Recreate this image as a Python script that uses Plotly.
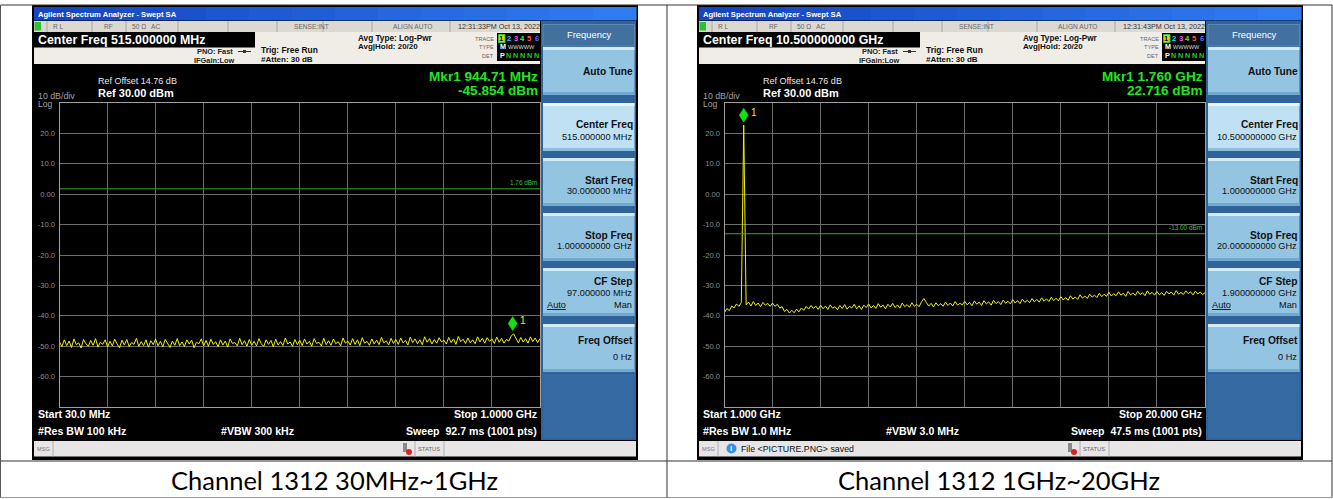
import plotly.graph_objects as go
import numpy as np

W, H = 1333, 499

# ------------------------------------------------------------------ data
ref_level_dbm = 30.0
bottom_level_dbm = -70.0
y_grid_values = [30, 20, 10, 0, -10, -20, -30, -40, -50, -60, -70]
y_tick_text = ["", "20.0", "10.0", "0.00", "-10.0", "-20.0", "-30.0", "-40.0", "-50.0", "-60.0", ""]

# left sweep: 30 MHz .. 1 GHz (MHz)
l_start, l_stop = 30.0, 1000.0
l_trace = [
    -48.6, -50.1, -47.9, -49.8, -48.3, -50.4, -47.6, -49.5, -48.9, -50.6, -47.8, -49.2, -50.0, -48.1, -49.7, -47.5, -50.3, -48.7, -49.4, -47.9,
    -50.2, -48.4, -49.9, -47.7, -49.3, -50.5, -48.0, -49.6, -47.8, -50.1, -48.8, -49.4, -47.4, -50.0, -48.5, -49.8, -47.9, -50.3, -48.2, -49.5,
    -47.6, -49.9, -48.4, -50.2, -47.8, -49.1, -50.4, -48.3, -49.7, -47.5, -49.8, -48.6, -50.1, -47.9, -49.3, -48.0, -50.5, -48.7, -49.2, -47.6,
    -49.9, -48.1, -50.0, -47.7, -49.4, -48.5, -50.2, -47.9, -49.6, -48.3, -50.3, -47.6, -49.1, -48.8, -49.9, -47.4, -49.5, -48.2, -50.0, -47.8,
    -49.7, -48.4, -49.9, -47.5, -49.2, -50.1, -47.9, -49.4, -48.1, -50.2, -47.7, -49.6, -48.5, -49.8, -47.3, -49.3, -48.6, -50.0, -47.8, -49.5,
    -48.0, -49.8, -47.6, -49.3, -48.4, -50.0, -47.5, -49.1, -48.7, -49.9, -47.4, -49.5, -48.2, -49.7, -47.6, -49.2, -48.5, -49.9, -47.3, -49.0,
    -48.3, -49.6, -47.5, -49.4, -47.9, -49.8, -47.2, -49.0, -48.4, -49.7, -47.6, -49.3, -48.0, -49.5, -47.1, -48.9, -48.2, -49.6, -47.4, -49.1,
    -47.8, -49.4, -47.3, -48.9, -48.1, -49.6, -47.0, -48.8, -47.6, -49.2, -47.9, -49.5, -46.9, -48.7, -47.5, -49.3, -47.8, -49.0, -47.2, -48.6,
    -48.0, -49.3, -47.1, -48.8, -47.6, -49.4, -46.8, -48.5, -47.7, -49.1, -47.3, -48.9, -47.9, -49.2, -46.9, -48.6, -47.4, -49.0, -47.2, -48.4,
    -47.6, -49.1, -47.0, -48.7, -47.4, -49.0, -47.8, -48.3, -46.7, -45.9, -47.3, -48.9, -47.1, -48.6, -47.5, -49.0, -46.9, -48.5, -47.3, -48.8, -47.5,
]
l_mkr_freq, l_mkr_dbm = 944.71, -45.854
l_display_line = 1.76

# right sweep: 1 GHz .. 20 GHz (GHz)
r_start, r_stop = 1.0, 20.0
r_trace = [
    -38.9, -37.6, -38.3, -36.8, -37.4, -36.1, -36.9, -35.7, 22.716, -36.4, -35.5, -36.8, -35.3, -36.6, -35.8, -37.0, -35.6, -36.5, -35.9, -36.9,
    -35.8, -36.9, -36.2, -37.5, -37.0, -38.6, -37.9, -39.1, -38.2, -39.0, -37.8, -38.7, -37.4, -38.2, -36.9, -37.8, -36.6, -37.6, -36.8, -37.9,
    -36.5, -37.7, -36.8, -37.9, -36.4, -37.5, -37.0, -38.0, -36.6, -37.6, -36.3, -37.8, -36.9, -37.4, -36.2, -37.7, -36.7, -37.9, -36.5, -37.3,
    -36.1, -37.4, -36.6, -37.6, -36.0, -37.2, -36.5, -37.7, -36.2, -37.1, -35.9, -37.3, -36.4, -37.5, -35.8, -37.0, -36.3, -37.2, -35.7, -36.9,
    -36.2, -37.0, -35.4, -34.3, -35.6, -36.8, -35.9, -37.1, -35.7, -36.7, -36.0, -36.9, -35.5, -36.6, -35.8, -36.8, -35.3, -36.5, -35.9, -36.4,
    -35.2, -36.4, -35.6, -36.7, -35.1, -36.2, -35.5, -36.6, -35.0, -36.1, -35.4, -36.5, -34.9, -36.0, -35.3, -36.3, -34.8, -35.9, -35.2, -36.1,
    -34.7, -35.8, -35.0, -36.0, -34.5, -35.6, -34.9, -35.7, -34.3, -35.4, -34.6, -35.5, -34.1, -35.2, -34.4, -35.3, -33.9, -35.0, -34.2, -35.1,
    -33.7, -34.8, -34.0, -34.9, -33.4, -34.5, -33.8, -34.6, -33.1, -34.2, -33.5, -34.3, -32.9, -33.9, -33.2, -34.0, -32.6, -33.7, -32.9, -33.6,
    -32.3, -33.5, -32.7, -33.4, -32.1, -33.2, -32.6, -33.6, -32.0, -33.1, -32.5, -33.3, -31.9, -33.0, -32.4, -33.4, -31.8, -32.9, -32.3, -33.2,
    -32.0, -33.1, -32.4, -33.3, -31.9, -32.8, -32.2, -33.2, -31.7, -32.9, -32.3, -33.0, -31.8, -32.7, -32.1, -33.1, -31.9, -32.8, -32.2, -33.0, -32.4,
]
r_mkr_freq, r_mkr_dbm = 1.760, 22.716
r_display_line = -13.00

captions = ["Channel 1312 30MHz~1GHz", "Channel 1312 1GHz~20GHz"]

screens = [
    dict(time="12:31:33PM Oct 13, 2022", center="Center Freq 515.000000 MHz",
         mkr1="Mkr1 944.71 MHz", mkr2="-45.854 dBm", dl_label="1.76 dBm",
         sk_center="515.000000 MHz", sk_start="30.000000 MHz", sk_stop="1.000000000 GHz",
         sk_step="97.000000 MHz", start="Start 30.0 MHz", rbw="#Res BW 100 kHz",
         vbw="#VBW 300 kHz", stop="Stop 1.0000 GHz", sweep="Sweep\u00a0\u00a092.7 ms (1001 pts)",
         msg=""),
    dict(time="12:31:43PM Oct 13, 2022", center="Center Freq 10.500000000 GHz",
         mkr1="Mkr1 1.760 GHz", mkr2="22.716 dBm", dl_label="-13.00 dBm",
         sk_center="10.500000000 GHz", sk_start="1.000000000 GHz", sk_stop="20.000000000 GHz",
         sk_step="1.900000000 GHz", start="Start 1.000 GHz", rbw="#Res BW 1.0 MHz",
         vbw="#VBW 3.0 MHz", stop="Stop 20.000 GHz", sweep="Sweep\u00a0\u00a047.5 ms (1001 pts)",
         msg="File &lt;PICTURE.PNG&gt; saved"),
]

# ------------------------------------------------------------------ helpers
FONT = "Liberation Sans, Arial, sans-serif"
shapes, anns = [], []


def rect(x0, y0, x1, y1, fill, line=None, lw=0, layer="below"):
    shapes.append(dict(type="rect", xref="paper", yref="paper",
                       x0=x0 / W, x1=x1 / W, y0=1 - y1 / H, y1=1 - y0 / H,
                       fillcolor=fill, line=dict(width=lw, color=line or fill), layer=layer))


def seg(x0, y0, x1, y1, color, w=1, layer="below"):
    shapes.append(dict(type="line", xref="paper", yref="paper",
                       x0=x0 / W, x1=x1 / W, y0=1 - y0 / H, y1=1 - y1 / H,
                       line=dict(width=w, color=color), layer=layer))


def txt(x, y, s, size, color, anchor="left", bold=False, family=FONT):
    anns.append(dict(x=x / W, y=1 - y / H, xref="paper", yref="paper",
                     text=("<b>%s</b>" % s) if bold else s, showarrow=False,
                     xanchor=anchor, yanchor="middle", borderpad=0,
                     font=dict(size=size, color=color, family=family)))


def hgrad(x0, y0, x1, y1, c0, c1, n=14):
    a = np.array([int(c0[i:i + 2], 16) for i in (1, 3, 5)])
    b = np.array([int(c1[i:i + 2], 16) for i in (1, 3, 5)])
    step = (x1 - x0) / n
    for k in range(n):
        c = a + (b - a) * k / (n - 1)
        rect(x0 + k * step, y0, x0 + (k + 1) * step + 0.6, y1,
             "#%02x%02x%02x" % tuple(int(v) for v in c))


def button(ox, top, bot, selected=False):
    base = "#bfe1f3" if selected else "#93c4e2"
    hi = "#eaf6fc" if selected else "#d3eaf7"
    lo = "#8cbfdf" if selected else "#72a9d0"
    rect(ox + 543, top, ox + 634.5, bot, base)
    rect(ox + 543, top, ox + 634.5, top + 3, hi)
    rect(ox + 543, bot - 3, ox + 634.5, bot, lo)


# ------------------------------------------------------------------ table
rect(0, 0, W, H, "#ffffff")

fig = go.Figure()
axes = [("x", "y", l_start, l_stop, l_trace, l_mkr_freq, l_mkr_dbm, l_display_line),
        ("x2", "y2", r_start, r_stop, r_trace, r_mkr_freq, r_mkr_dbm, r_display_line)]

GRID = "#6c6c6c"
BORDER = "#a0a0a0"
TICKC = "#8e8e8e"

for si, (s, ax) in enumerate(zip(screens, axes)):
    ox = 0 if si == 0 else 665
    xa, ya, f0, f1, trace, mf, md, dl = ax

    # frame
    rect(ox + 32, 5, ox + 638, 460, "#000000")
    hgrad(ox + 34, 7, ox + 636, 20.5, "#1446c2", "#2f7cf2")
    txt(ox + 37, 14, "Agilent Spectrum Analyzer - Swept SA", 7.6, "#ffffff", bold=True)

    # status row
    rect(ox + 34, 21, ox + 540, 32, "#dcd9d2")
    rect(ox + 34.5, 22, ox + 41, 30.5, "#2fbf2f")
    for sx in (47, 92, 126, 178, 228, 277, 323, 372, 450):
        seg(ox + sx, 21, ox + sx, 32, "#a9a7a2")
    txt(ox + 52, 26.5, "R L", 6.6, "#666666")
    txt(ox + 103, 26.5, "RF", 6.6, "#666666")
    txt(ox + 131, 26.5, "50 \u03a9", 6.6, "#666666")
    txt(ox + 150, 26.5, "AC", 6.6, "#666666")
    txt(ox + 293, 26.5, "SENSE:INT", 6.6, "#666666")
    txt(ox + 392, 26.5, "ALIGN AUTO", 6.6, "#666666")
    txt(ox + 457, 26.5, s["time"], 7.2, "#333333")

    # info row
    rect(ox + 34, 32, ox + 540, 64, "#efede6")
    rect(ox + 34, 32, ox + 255, 47.5, "#000000")
    txt(ox + 37, 39.8, s["center"], 12.4, "#ffffff", bold=True)
    txt(ox + 234, 51.5, "PNO: Fast", 7.4, "#222222", anchor="right", bold=True)
    txt(ox + 235, 60, "IFGain:Low", 7.4, "#222222", anchor="right", bold=True)
    seg(ox + 238, 51.5, ox + 251, 51.5, "#333333", 1)
    rect(ox + 243, 50, ox + 246, 53, "#333333")
    txt(ox + 260, 50, "Trig: Free Run", 8.4, "#111111", bold=True)
    txt(ox + 260, 59.5, "#Atten: 30 dB", 8.0, "#111111", bold=True)
    txt(ox + 357, 38.5, "Avg Type: Log-Pwr", 8.2, "#111111", bold=True)
    txt(ox + 357, 47, "Avg|Hold: 20/20", 8.0, "#111111", bold=True)

    # trace info box
    rect(ox + 497, 33, ox + 540, 61, "#000000")
    txt(ox + 495, 38.5, "TRACE", 5.6, "#666666", anchor="right")
    txt(ox + 495, 47, "TYPE", 5.6, "#666666", anchor="right")
    txt(ox + 495, 55.5, "DET", 5.6, "#666666", anchor="right")
    rect(ox + 498.5, 34.5, ox + 505, 42.5, "#d8d800", line="#30c030", lw=1)
    tcols = ["#111111", "#33ccff", "#ff55ff", "#44ee44", "#ff5555", "#5577ff"]
    for k, c in enumerate(tcols):
        txt(ox + 501.8 + 7 * k, 38.5, str(k + 1), 7.6, c, anchor="center", bold=True)
    txt(ox + 499, 47, "M", 7.2, "#ffffff", bold=True)
    txt(ox + 507, 47, "WWWWW", 5.6, "#dddddd")
    txt(ox + 499, 55.5, "P", 7.2, "#ffffff", bold=True)
    for k in range(5):
        txt(ox + 508.8 + 7 * k, 55.5, "N", 7.2, "#22cc22", anchor="center", bold=True)

    # main texts
    txt(ox + 96.5, 81, "Ref Offset 14.76 dB", 9.0, "#e8e8e8")
    txt(ox + 96.5, 92.7, "Ref 30.00 dBm", 11.0, "#ffffff", bold=True)
    txt(ox + 36.5, 95.5, "10 dB/div", 8.8, "#a2a2a2")
    txt(ox + 36.5, 103.5, "Log", 8.6, "#a2a2a2")
    txt(ox + 539, 76.5, s["mkr1"], 13.6, "#22e622", anchor="right", bold=True)
    txt(ox + 539, 90.5, s["mkr2"], 13.6, "#22e622", anchor="right", bold=True)
    txt(ox + 37, 414, s["start"], 10.6, "#ffffff", bold=True)
    txt(ox + 37, 431, s["rbw"], 10.6, "#ffffff", bold=True)
    txt(ox + 220, 431, s["vbw"], 10.6, "#ffffff", bold=True)
    txt(ox + 538, 414, s["stop"], 10.6, "#ffffff", anchor="right", bold=True)
    txt(ox + 538, 431, s["sweep"], 10.6, "#ffffff", anchor="right", bold=True)

    # softkey panel
    rect(ox + 541, 21, ox + 636, 440, "#2f6399")
    rect(ox + 543, 24.5, ox + 634.5, 46, "#42709f", line="#5d88b5", lw=1)
    txt(ox + 589, 34.5, "Frequency", 9.4, "#ffffff", anchor="center")
    tops = [47, 103, 158, 213, 268, 324]
    for k, t in enumerate(tops):
        button(ox, t, t + 48, selected=(k == 1))
    rect(ox + 543, 374, ox + 634.5, 438, "#3569a2")
    R = ox + 633.5
    txt(R, 71, "Auto Tune", 10.2, "#111111", anchor="right", bold=True)
    txt(R, 125, "Center Freq", 10.2, "#111111", anchor="right", bold=True)
    txt(R - 1, 136.5, s["sk_center"], 9.2, "#111111", anchor="right")
    txt(R, 180, "Start Freq", 10.2, "#111111", anchor="right", bold=True)
    txt(R - 1, 191, s["sk_start"], 9.2, "#111111", anchor="right")
    txt(R, 235, "Stop Freq", 10.2, "#111111", anchor="right", bold=True)
    txt(R - 1, 246, s["sk_stop"], 9.2, "#111111", anchor="right")
    txt(R, 281.5, "CF Step", 10.2, "#111111", anchor="right", bold=True)
    txt(R - 1, 293, s["sk_step"], 9.2, "#111111", anchor="right")
    txt(ox + 546, 305, "<u>Auto</u>", 9.2, "#111111")
    txt(R - 1, 305, "Man", 9.2, "#111111", anchor="right")
    txt(R, 340.5, "Freq Offset", 10.2, "#111111", anchor="right", bold=True)
    txt(R - 1, 357, "0 Hz", 9.2, "#111111", anchor="right")

    # msg row
    rect(ox + 34, 441, ox + 636, 456.5, "#e7e5e5")
    seg(ox + 53, 441, ox + 53, 456.5, "#b0b0b0")
    seg(ox + 415, 441, ox + 415, 456.5, "#b0b0b0")
    seg(ox + 444, 441, ox + 444, 456.5, "#b0b0b0")
    txt(ox + 36, 449, "MSG", 5.6, "#777777")
    rect(ox + 403, 443, ox + 407, 452, "#8a8a8a")
    shapes.append(dict(type="circle", xref="paper", yref="paper",
                       x0=(ox + 406) / W, x1=(ox + 412) / W, y0=1 - 455 / H, y1=1 - 449 / H,
                       fillcolor="#e02020", line=dict(width=0), layer="below"))
    txt(ox + 416.5, 449, "STATUS", 5.8, "#666666")
    if s["msg"]:
        shapes.append(dict(type="circle", xref="paper", yref="paper",
                           x0=(ox + 61.5) / W, x1=(ox + 71.5) / W, y0=1 - 453.5 / H, y1=1 - 443.5 / H,
                           fillcolor="#3a8ee6", line=dict(width=0), layer="below"))
        txt(ox + 66.5, 448.5, "<b>i</b>", 8, "#ffffff", anchor="center")
        txt(ox + 75, 448.5, s["msg"], 8.8, "#111111")

    # plot axes
    gl, gr, gt, gb = ox + 59.5, ox + 540.0, 103.0, 407.0
    span = f1 - f0
    fig.add_trace(go.Scatter(x=np.linspace(f0, f1, len(trace)), y=trace, mode="lines",
                             line=dict(color="#f2f200", width=1), xaxis=xa, yaxis=ya,
                             hoverinfo="skip", showlegend=False))
    fig.add_trace(go.Scatter(x=[f0, f1], y=[dl, dl], mode="lines",
                             line=dict(color="#34a834", width=1), xaxis=xa, yaxis=ya,
                             hoverinfo="skip", showlegend=False))
    axis_common = dict(showgrid=True, gridcolor=GRID, gridwidth=1, zeroline=False,
                       showline=True, mirror=True, linecolor=BORDER, linewidth=1,
                       ticks="", fixedrange=True)
    fig.update_layout(**{
        ("xaxis" if xa == "x" else "xaxis2"): dict(
            domain=[gl / W, gr / W], range=[f0, f1], anchor=ya,
            tickvals=[f0 + span * k / 10 for k in range(11)], showticklabels=False, **axis_common),
        ("yaxis" if ya == "y" else "yaxis2"): dict(
            domain=[1 - gb / H, 1 - gt / H], range=[bottom_level_dbm, ref_level_dbm], anchor=xa,
            tickvals=y_grid_values, ticktext=y_tick_text, ticklabelstandoff=2,
            tickfont=dict(size=7.6, color=TICKC, family=FONT), **axis_common),
    })
    # display-line label
    anns.append(dict(x=f1, y=dl, xref=xa, yref=ya, text=s["dl_label"], showarrow=False,
                     xanchor="right", yanchor="bottom", yshift=0.5, xshift=-1,
                     font=dict(size=6.4, color="#3cc03c", family=FONT)))
    # marker diamond
    shapes.append(dict(type="path", xref=xa, yref=ya, xsizemode="pixel", ysizemode="pixel",
                       xanchor=mf, yanchor=md, path="M 0 3 L 4.5 10 L 0 17 L -4.5 10 Z",
                       fillcolor="#14e014", line=dict(color="#14e014", width=0.5), layer="above"))
    anns.append(dict(x=mf, y=md, xref=xa, yref=ya, text="1", showarrow=False,
                     xanchor="left", yanchor="middle", xshift=5, yshift=13,
                     font=dict(size=10, color="#f0f000", family=FONT)))

# table borders
seg(0.5, 5, 1332, 5, "#333333", 1, layer="above")
seg(0.5, 461, 1332, 461, "#333333", 1, layer="above")
seg(0.5, 497.5, 1332, 497.5, "#999999", 1, layer="above")
seg(0.5, 5, 0.5, 497.5, "#555555", 1, layer="above")
seg(667, 5, 667, 497.5, "#333333", 1, layer="above")
seg(1332, 5, 1332, 497.5, "#333333", 1, layer="above")

txt(334, 480, captions[0], 25.5, "#000000", anchor="center", family="Lato, Noto Sans, sans-serif")
txt(999.5, 480, captions[1], 25.5, "#000000", anchor="center", family="Lato, Noto Sans, sans-serif")

fig.update_layout(width=W, height=H, autosize=False, margin=dict(l=0, r=0, t=0, b=0),
                  paper_bgcolor="#ffffff", plot_bgcolor="rgba(0,0,0,0)",
                  shapes=shapes, annotations=anns, showlegend=False, hovermode=False)

fig.write_html("out.html", config={"displayModeBar": False, "staticPlot": True},
               post_script="document.body.style.margin='0';document.body.style.overflow='hidden';")
